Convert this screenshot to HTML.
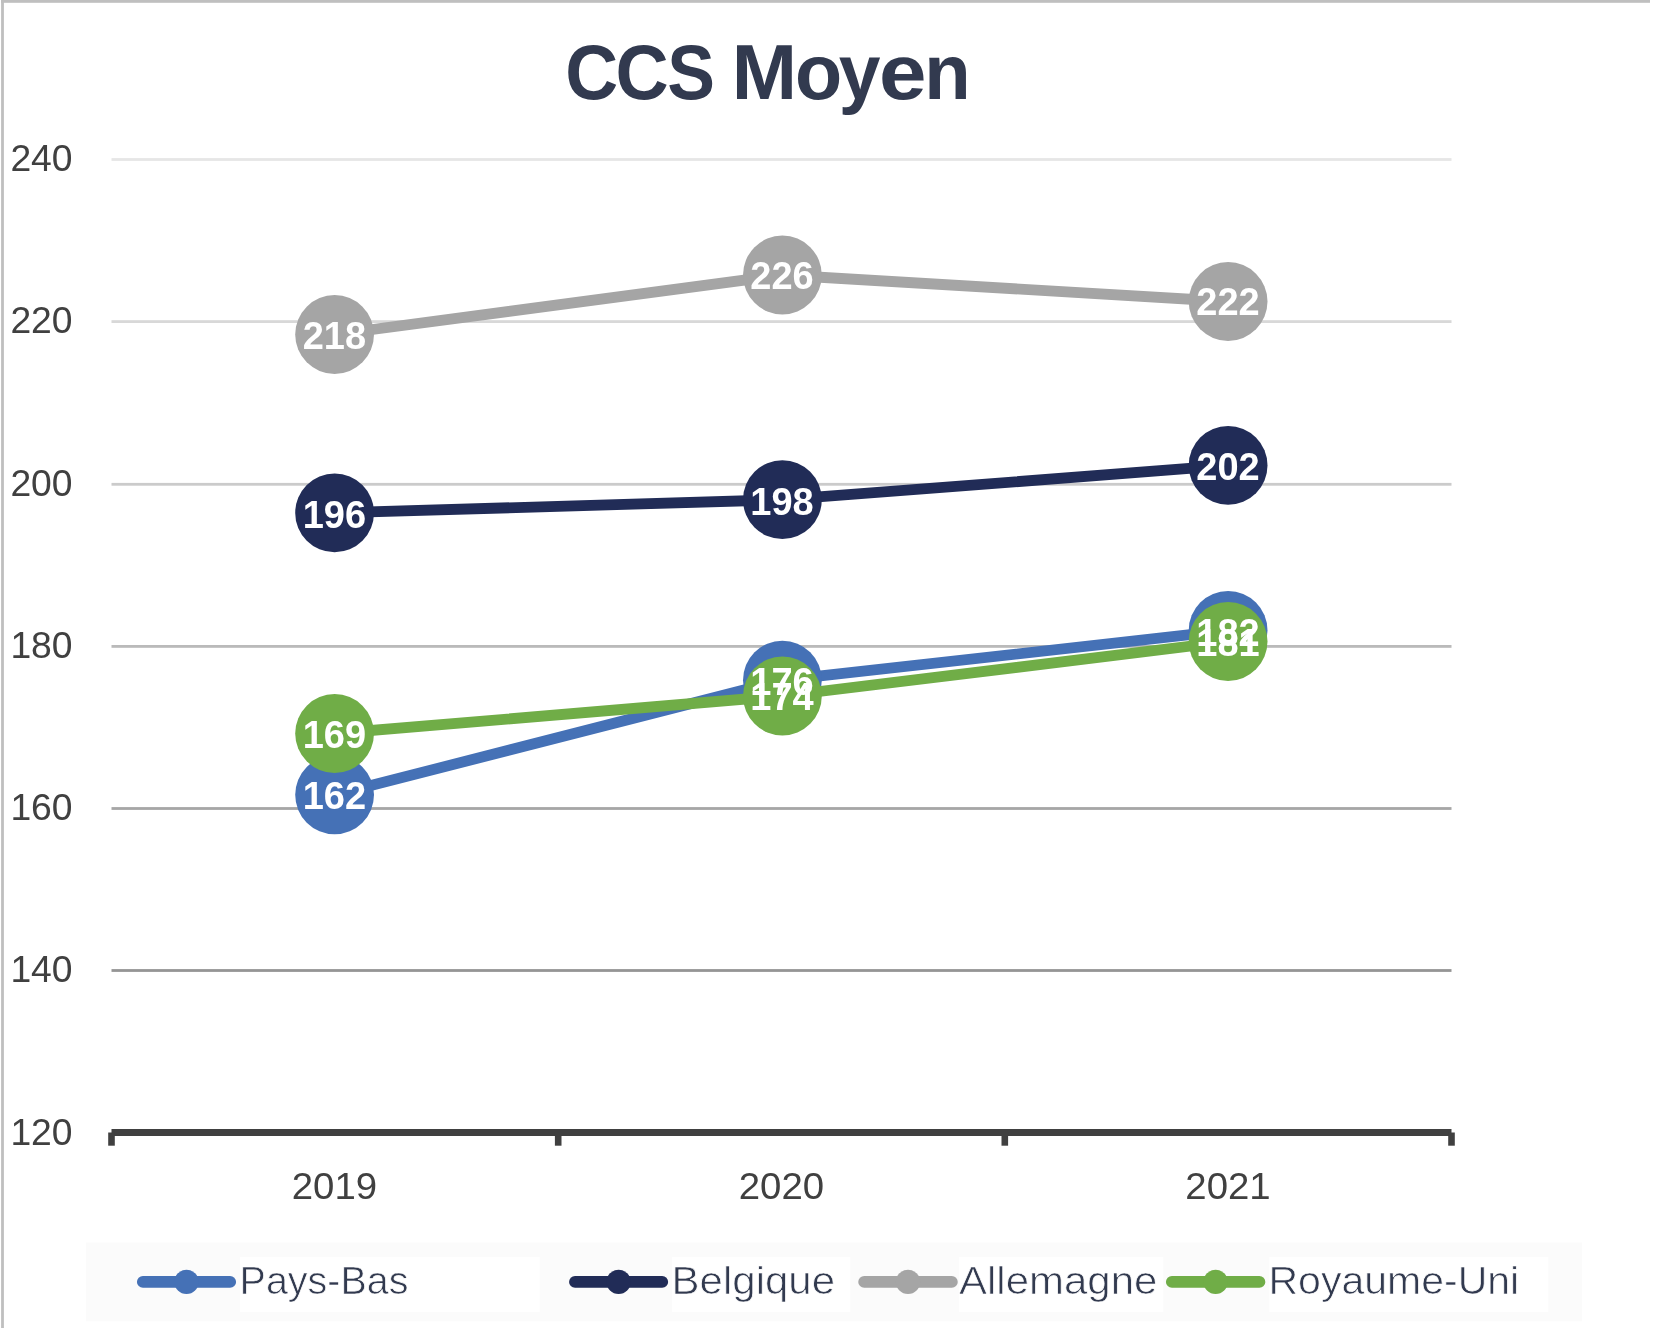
<!DOCTYPE html>
<html>
<head>
<meta charset="utf-8">
<title>CCS Moyen</title>
<style>
html,body{margin:0;padding:0;background:#fff;width:1657px;height:1340px;overflow:hidden;}
svg{display:block;position:absolute;left:0;top:0;will-change:transform;}
text{font-family:"Liberation Sans",sans-serif;}
.ax{font-size:36.5px;fill:#404040;}
.dl{font-size:38px;font-weight:bold;fill:#fff;text-anchor:middle;}
.lg{font-size:38.8px;fill:#323a4f;stroke:#fff;stroke-width:0.7px;}
.ttl{font-size:78.2px;font-weight:bold;fill:#323a4f;}
</style>
</head>
<body>
<svg width="1657" height="1340" viewBox="0 0 1657 1340">
  <!-- outer chart border (top + left only visible) -->
  <rect x="1" y="0" width="1649" height="2.8" fill="#bfbfbf"/>
  <rect x="1.1" y="0" width="2.8" height="1328" fill="#bfbfbf"/>

  <!-- title -->
  <g class="ttl">
    <text x="565.19" y="99.3" textLength="52.93" lengthAdjust="spacingAndGlyphs">C</text>
    <text x="615.38" y="99.3" textLength="53.15" lengthAdjust="spacingAndGlyphs">C</text>
    <text x="667.15" y="99.3" textLength="47.74" lengthAdjust="spacingAndGlyphs">S</text>
    <text x="731.79" y="99.3" textLength="65.26" lengthAdjust="spacingAndGlyphs">M</text>
    <text x="794.94" y="99.3" textLength="47.2" lengthAdjust="spacingAndGlyphs">o</text>
    <text x="838.84" y="99.3" textLength="41.73" lengthAdjust="spacingAndGlyphs">y</text>
    <text x="879.12" y="99.3" textLength="47.5" lengthAdjust="spacingAndGlyphs">e</text>
    <text x="924.34" y="99.3" textLength="46.39" lengthAdjust="spacingAndGlyphs">n</text>
  </g>

  <!-- gridlines -->
  <g id="grid">
    <rect x="111.5" y="158.1" width="1340" height="2.8" fill="#e6e6e6"/>
    <rect x="111.5" y="320.2" width="1340" height="2.8" fill="#d8d8d8"/>
    <rect x="111.5" y="482.9" width="1340" height="2.8" fill="#cbcbcb"/>
    <rect x="111.5" y="645.0" width="1340" height="2.8" fill="#bababa"/>
    <rect x="111.5" y="807.1" width="1340" height="2.8" fill="#a6a6a6"/>
    <rect x="111.5" y="969.1" width="1340" height="2.8" fill="#959595"/>
  </g>

  <!-- y axis labels -->
  <g class="ax">
    <text x="10.4" y="170.7" textLength="62.2" lengthAdjust="spacingAndGlyphs">240</text>
    <text x="10.4" y="332.8" textLength="62.2" lengthAdjust="spacingAndGlyphs">220</text>
    <text x="10.4" y="495.7" textLength="62.2" lengthAdjust="spacingAndGlyphs">200</text>
    <text x="10.4" y="657.9" textLength="62.2" lengthAdjust="spacingAndGlyphs">180</text>
    <text x="10.4" y="820.1" textLength="62.2" lengthAdjust="spacingAndGlyphs">160</text>
    <text x="10.4" y="982.3" textLength="62.2" lengthAdjust="spacingAndGlyphs">140</text>
    <text x="10.4" y="1144.9" textLength="62.2" lengthAdjust="spacingAndGlyphs">120</text>
  </g>

  <!-- x axis -->
  <g fill="#404040">
    <rect x="111.5" y="1129" width="1340" height="7"/>
    <rect x="108.2" y="1132.5" width="6.6" height="13.2"/>
    <rect x="554.9" y="1132.5" width="6.6" height="13.2"/>
    <rect x="1001.5" y="1132.5" width="6.6" height="13.2"/>
    <rect x="1448.2" y="1132.5" width="6.6" height="13.2"/>
  </g>
  <g class="ax" text-anchor="middle">
    <text x="334.4" y="1199" textLength="85.3" lengthAdjust="spacingAndGlyphs">2019</text>
    <text x="781.4" y="1199" textLength="85.3" lengthAdjust="spacingAndGlyphs">2020</text>
    <text x="1228" y="1199" textLength="85.3" lengthAdjust="spacingAndGlyphs">2021</text>
  </g>

  <!-- series: Pays-Bas -->
  <g fill="#4571b6" stroke="#4571b6">
    <polyline points="334.6,794.8 782.4,680.2 1228.1,630.4" fill="none" stroke-width="10.8" stroke-linejoin="round" stroke-linecap="round"/>
    <circle cx="334.6" cy="794.8" r="39.4" stroke="none"/>
    <circle cx="782.4" cy="680.2" r="39.4" stroke="none"/>
    <circle cx="1228.1" cy="630.4" r="39.4" stroke="none"/>
  </g>
  <!-- series: Belgique -->
  <g fill="#212c57" stroke="#212c57">
    <polyline points="334.6,512.9 782.4,499.7 1228.1,465.4" fill="none" stroke-width="10.8" stroke-linejoin="round" stroke-linecap="round"/>
    <circle cx="334.6" cy="512.9" r="39.4" stroke="none"/>
    <circle cx="782.4" cy="499.7" r="39.4" stroke="none"/>
    <circle cx="1228.1" cy="465.4" r="39.4" stroke="none"/>
  </g>
  <!-- series: Allemagne -->
  <g fill="#a5a5a5" stroke="#a5a5a5">
    <polyline points="334.6,334.5 782.4,275 1228.1,301.5" fill="none" stroke-width="10.8" stroke-linejoin="round" stroke-linecap="round"/>
    <circle cx="334.6" cy="334.5" r="39.4" stroke="none"/>
    <circle cx="782.4" cy="275" r="39.4" stroke="none"/>
    <circle cx="1228.1" cy="301.5" r="39.4" stroke="none"/>
  </g>
  <!-- series: Royaume-Uni -->
  <g fill="#70ad47" stroke="#70ad47">
    <polyline points="334.6,733.5 782.4,696 1228.1,641.5" fill="none" stroke-width="10.8" stroke-linejoin="round" stroke-linecap="round"/>
    <circle cx="334.6" cy="733.5" r="39.4" stroke="none"/>
    <circle cx="782.4" cy="696" r="39.4" stroke="none"/>
    <circle cx="1228.1" cy="641.5" r="39.4" stroke="none"/>
  </g>

  <!-- data labels -->
  <g class="dl">
    <text x="334.4" y="809.2">162</text>
    <text x="782.0" y="694.8">176</text>
    <text x="1228" y="645.6">182</text>
    <text x="334.4" y="527.7">196</text>
    <text x="782.0" y="514.5">198</text>
    <text x="1228" y="479.5">202</text>
    <text x="334.4" y="349.4">218</text>
    <text x="782.0" y="289.4">226</text>
    <text x="1228" y="314.8">222</text>
    <text x="334.4" y="747.9">169</text>
    <text x="782.0" y="709.7">174</text>
    <text x="1228" y="655.8">181</text>
  </g>

  <!-- legend -->
  <rect x="86" y="1242.6" width="1496" height="78.6" fill="#fbfbfb"/>
  <g fill="#fff">
    <rect x="239.8" y="1257" width="299.9" height="55.1"/>
    <rect x="672" y="1257" width="178.4" height="55.1"/>
    <rect x="959.1" y="1257" width="204.2" height="55.1"/>
    <rect x="1269.3" y="1257" width="279.1" height="55.1"/>
  </g>
  <g stroke-width="11.9" stroke-linecap="round">
    <line x1="142.9" y1="1281.9" x2="230.1" y2="1281.9" stroke="#4571b6"/>
    <line x1="575.0" y1="1281.9" x2="662.2" y2="1281.9" stroke="#212c57"/>
    <line x1="864.2" y1="1281.9" x2="951.8" y2="1281.9" stroke="#a5a5a5"/>
    <line x1="1171.9" y1="1281.9" x2="1259.4" y2="1281.9" stroke="#70ad47"/>
  </g>
  <circle cx="186.5" cy="1281.9" r="12.1" fill="#4571b6"/>
  <circle cx="618.6" cy="1281.9" r="12.1" fill="#212c57"/>
  <circle cx="908.0" cy="1281.9" r="12.1" fill="#a5a5a5"/>
  <circle cx="1215.6" cy="1281.9" r="12.1" fill="#70ad47"/>
  <g class="lg">
    <text x="239.6" y="1294" textLength="168.8" lengthAdjust="spacingAndGlyphs">Pays-Bas</text>
    <text x="671.6" y="1294" textLength="163.5" lengthAdjust="spacingAndGlyphs">Belgique</text>
    <text x="959" y="1294" textLength="198.4" lengthAdjust="spacingAndGlyphs">Allemagne</text>
    <text x="1268.5" y="1294" textLength="250.7" lengthAdjust="spacingAndGlyphs">Royaume-Uni</text>
  </g>
</svg>
</body>
</html>
